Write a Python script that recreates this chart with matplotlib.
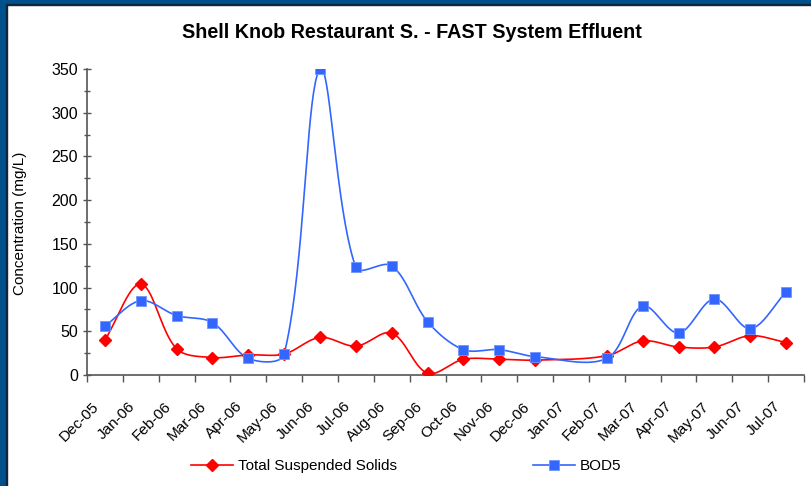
import numpy as np
import matplotlib
matplotlib.use('Agg')
import matplotlib.pyplot as plt
from matplotlib.patches import Rectangle
from matplotlib.transforms import ScaledTranslation

plt.rcParams['font.family'] = ['Liberation Sans', 'DejaVu Sans']

# month labels on the axis, Dec-05 .. Jul-07
month_labels = ['Dec-05', 'Jan-06', 'Feb-06', 'Mar-06', 'Apr-06', 'May-06', 'Jun-06',
                'Jul-06', 'Aug-06', 'Sep-06', 'Oct-06', 'Nov-06', 'Dec-06', 'Jan-07',
                'Feb-07', 'Mar-07', 'Apr-07', 'May-07', 'Jun-07', 'Jul-07']

# sampling months (Jan-07 has no sample)
sample_months = ['Dec-05', 'Jan-06', 'Feb-06', 'Mar-06', 'Apr-06', 'May-06', 'Jun-06',
                 'Jul-06', 'Aug-06', 'Sep-06', 'Oct-06', 'Nov-06', 'Dec-06',
                 'Feb-07', 'Mar-07', 'Apr-07', 'May-07', 'Jun-07', 'Jul-07']

tss = [40, 104, 30, 20, 23, 24, 43, 33, 48, 2, 18, 18, 17, 22, 39, 32, 32, 45, 37]
bod5 = [56, 85, 68, 60, 19, 24, 350, 123, 125, 61, 29, 29, 21, 19, 79, 48, 87, 53, 95]


def smooth(ax, x, y, n=40):
    # excel-like smoothed line, bezier through the points, done in pixel space
    p = ax.transData.transform(np.column_stack([x, y]))
    p = np.vstack([p[0], p, p[-1]])
    t = np.linspace(0, 1, n)[:, None]
    out = []
    for i in range(1, len(p) - 2):
        p0, p1, p2, p3 = p[i - 1], p[i], p[i + 1], p[i + 2]
        l01 = np.hypot(*(p1 - p0))
        l12 = np.hypot(*(p2 - p1))
        l23 = np.hypot(*(p3 - p2))
        w1 = l12 / (l01 + l12) if l01 + l12 > 0 else 0.5
        w2 = l12 / (l12 + l23) if l12 + l23 > 0 else 0.5
        c1 = p1 + (p2 - p0) * w1 / 3
        c2 = p2 - (p3 - p1) * w2 / 3
        out.append((1 - t) ** 3 * p1 + 3 * (1 - t) ** 2 * t * c1 + 3 * (1 - t) * t ** 2 * c2 + t ** 3 * p2)
    out = ax.transData.inverted().transform(np.vstack(out))
    return out[:, 0], out[:, 1]


x_pts = [month_labels.index(m) + 0.5 for m in sample_months]

fig = plt.figure(figsize=(8.11, 4.86), dpi=100)
fig.patch.set_facecolor('white')

# blue frame on top and left
fig.patches.append(Rectangle((0, 1 - 4 / 486), 1, 4 / 486, transform=fig.transFigure, color='#00508C', zorder=0))
fig.patches.append(Rectangle((0, 1 - 5 / 486), 1, 1.2 / 486, transform=fig.transFigure, color='#10263A', zorder=0))
fig.patches.append(Rectangle((0, 0), 6 / 811, 1, transform=fig.transFigure, color='#00508C', zorder=0))
fig.patches.append(Rectangle((6 / 811, 0), 1.2 / 811, 1 - 4 / 486, transform=fig.transFigure, color='#10263A', zorder=0))

ax = fig.add_axes([87 / 811, 1 - 375 / 486, (804 - 87) / 811, (375 - 69) / 486])
ax.set_xlim(0, len(month_labels))
ax.set_ylim(0, 350)

sx, sy = smooth(ax, x_pts, tss)
ax.plot(sx, sy, color='#FF0000', lw=1.2, zorder=3)
ax.plot(x_pts, tss, ls='none', marker='D', ms=6.5, color='#FF0000', zorder=4)

sx, sy = smooth(ax, x_pts, bod5)
ax.plot(sx, sy, color='#3366FF', lw=1.2, zorder=3)
ax.plot(x_pts, bod5, ls='none', marker='s', ms=7, color='#3366FF', mec='#6E95FF', mew=0.6, zorder=4)

ax.set_yticks(np.arange(0, 351, 50))
ax.set_yticks(np.arange(0, 351, 25), minor=True)
ax.set_xticks(np.arange(0, len(month_labels) + 1))
ax.set_xticklabels([])
# rotated month labels, excel puts them a bit right of / below the tick
off = ScaledTranslation(10 / 100, -29 / 100, fig.dpi_scale_trans)
for i, m in enumerate(month_labels):
    ax.text(i, 0, m, transform=ax.get_xaxis_transform() + off, rotation=45,
            ha='right', va='center', rotation_mode='anchor', fontsize=11)

for s in ['top', 'right']:
    ax.spines[s].set_visible(False)
for s in ['left', 'bottom']:
    ax.spines[s].set_color('#555555')
    ax.spines[s].set_linewidth(1.2)
    ax.spines[s].set_clip_on(False)
ax.tick_params(axis='y', which='both', direction='inout', length=6, width=1, color='#555555', labelsize=11.5, pad=3.5)
ax.tick_params(axis='y', which='minor', length=5)
ax.tick_params(axis='x', direction='out', length=5, width=1, color='#555555')

fig.text(20 / 811, 1 - 223 / 486, 'Concentration (mg/L)', rotation=90, ha='center', va='center', fontsize=11)
fig.text(412 / 811, 1 - 32 / 486, 'Shell Knob Restaurant S. - FAST System Effluent',
         ha='center', va='center', fontsize=14.2, fontweight='bold')

h1, = ax.plot([], [], color='#FF0000', lw=1.2, marker='D', ms=6.5)
h2, = ax.plot([], [], color='#3366FF', lw=1.2, marker='s', ms=7, mec='#6E95FF', mew=0.6)
fig.legend([h1, h2], ['Total Suspended Solids', 'BOD5'], loc='center', bbox_to_anchor=(406 / 811, 1 - 466 / 486),
           ncol=2, frameon=False, fontsize=11, handlelength=2.75, columnspacing=8.9, handletextpad=0.3)

fig.savefig('out.png', dpi=100)
